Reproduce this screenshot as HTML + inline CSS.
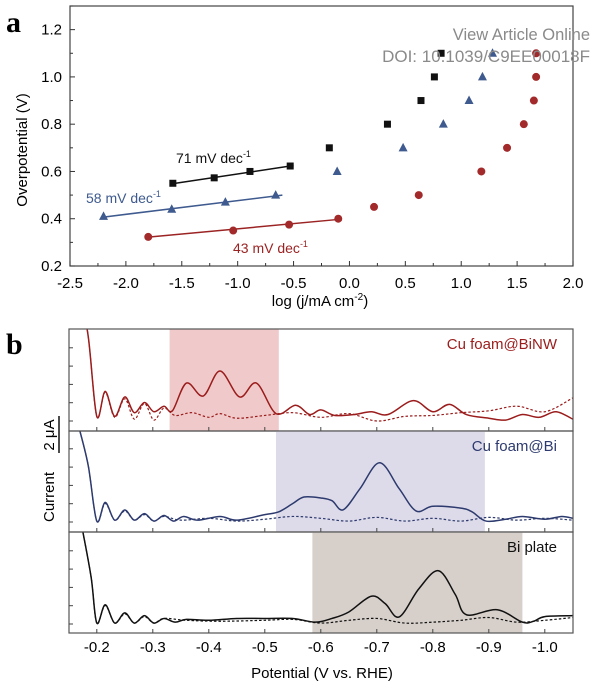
<!DOCTYPE html>
<html><head><meta charset="utf-8"><style>
body{margin:0;background:#fff;width:600px;height:684px;overflow:hidden}
svg{font-family:"Liberation Sans",sans-serif}
</style></head><body>
<svg id="fig" width="600" height="684" viewBox="0 0 600 684">
<text x="6" y="32" font-family="Liberation Serif,serif" font-weight="bold" font-size="30">a</text>
<text x="6" y="354" font-family="Liberation Serif,serif" font-weight="bold" font-size="30">b</text>
<g id="pa"></g>
<g id="pb"></g>
<text x="590" y="40" text-anchor="end" font-size="16.5" fill="#8a8a8a">View Article Online</text>
<text x="590" y="62" text-anchor="end" font-size="17" fill="#8a8a8a">DOI: 10.1039/C9EE00018F</text>
</svg>
<script>
// ---- Panel a data ----
const aXTicks=[-2.5,-2.0,-1.5,-1.0,-0.5,0.0,0.5,1.0,1.5,2.0];
const aYTicks=[0.2,0.4,0.6,0.8,1.0,1.2];
const blackX=[-1.58,-1.21,-0.89,-0.53,-0.18,0.34,0.64,0.76,0.82];
const blackY=[0.55,0.573,0.6,0.623,0.7,0.8,0.9,1.0,1.1];
const blueX=[-2.2,-1.59,-1.11,-0.66,-0.11,0.48,0.84,1.07,1.19,1.28];
const blueY=[0.41,0.44,0.47,0.5,0.6,0.7,0.8,0.9,1.0,1.1];
const redX=[-1.8,-1.04,-0.54,-0.1,0.22,0.62,1.18,1.41,1.56,1.65,1.67,1.67];
const redY=[0.323,0.35,0.375,0.4,0.45,0.5,0.6,0.7,0.8,0.9,1.0,1.1];
const blackFit=[[-1.6,0.547],[-0.5,0.625]];
const blueFit=[[-2.2,0.407],[-0.6,0.5]];
const redFit=[[-1.8,0.322],[-0.1,0.397]];

// ---- Panel b data (potential V, current uA above baseline) ----
const bXTicks=[-0.2,-0.3,-0.4,-0.5,-0.6,-0.7,-0.8,-0.9,-1.0];
const binwSolidX=[-0.17,-0.185,-0.2,-0.215,-0.232,-0.25,-0.267,-0.285,-0.302,-0.32,-0.335,-0.36,-0.39,-0.42,-0.455,-0.485,-0.52,-0.555,-0.58,-0.6,-0.625,-0.66,-0.69,-0.72,-0.765,-0.8,-0.83,-0.86,-0.9,-0.93,-0.96,-0.99,-1.02,-1.05];
const binwSolidY=[7,4.5,0.25,1.6,0.25,1.3,0.45,1.0,0.5,0.8,0.55,2.05,1.35,2.7,1.3,2.05,0.4,0.85,0.35,0.6,0.3,0.35,0.5,0.35,1.1,0.5,0.9,0.35,0.15,0.05,0.35,0.2,0.5,0.1];
const binwDashX=[-0.17,-0.185,-0.2,-0.215,-0.232,-0.25,-0.267,-0.285,-0.302,-0.32,-0.34,-0.37,-0.4,-0.42,-0.45,-0.5,-0.55,-0.6,-0.65,-0.7,-0.75,-0.8,-0.85,-0.9,-0.95,-1.0,-1.05];
const binwDashY=[7,4.5,0.25,1.55,0.2,1.2,0.1,0.95,0.05,0.7,0.3,0.45,0.2,0.4,0.15,0.3,0.45,0.2,0.4,0.0,0.25,0.3,0.45,0.55,0.8,0.5,1.25];
const biSolidX=[-0.17,-0.185,-0.2,-0.215,-0.232,-0.25,-0.267,-0.285,-0.302,-0.32,-0.337,-0.355,-0.38,-0.42,-0.45,-0.5,-0.525,-0.55,-0.57,-0.6,-0.62,-0.64,-0.67,-0.705,-0.74,-0.77,-0.8,-0.85,-0.87,-0.895,-0.93,-0.96,-1.0,-1.03,-1.05];
const biSolidY=[4.9,3.0,0.05,1.06,0.1,0.65,0.1,0.45,0.05,0.35,0.05,0.3,0.1,0.3,0.1,0.4,0.55,1.0,1.35,1.3,1.15,0.66,1.8,3.2,1.8,0.6,0.85,0.75,0.55,0.05,0.15,0.3,0.15,0.3,0.2];
const biDashX=[-0.17,-0.185,-0.2,-0.215,-0.232,-0.25,-0.267,-0.285,-0.302,-0.32,-0.35,-0.4,-0.45,-0.5,-0.55,-0.6,-0.65,-0.7,-0.75,-0.8,-0.85,-0.9,-0.95,-1.0,-1.05];
const biDashY=[4.9,3.0,0.05,1.0,0.1,0.6,0.1,0.4,0.05,0.3,0.1,0.2,0.05,0.15,0.3,0.2,0.05,0.25,0.05,0.2,0.05,0.25,0.1,0.2,0.1];
const plateSolidX=[-0.175,-0.19,-0.2,-0.215,-0.232,-0.25,-0.267,-0.285,-0.302,-0.32,-0.34,-0.36,-0.4,-0.45,-0.5,-0.55,-0.59,-0.62,-0.65,-0.69,-0.715,-0.74,-0.775,-0.81,-0.84,-0.86,-0.915,-0.96,-0.98,-1.0,-1.05];
const plateSolidY=[5.0,2.5,0.05,1.04,0.05,0.6,0.05,0.45,0.05,0.3,0.1,0.25,0.2,0.3,0.3,0.3,0.1,0.3,0.65,1.5,1.1,0.38,1.9,2.88,1.6,0.5,0.77,0.1,0.15,0.4,0.45];
const plateDashX=[-0.175,-0.19,-0.2,-0.215,-0.232,-0.25,-0.267,-0.285,-0.302,-0.32,-0.36,-0.42,-0.5,-0.55,-0.6,-0.65,-0.7,-0.75,-0.8,-0.85,-0.9,-0.95,-1.0,-1.05];
const plateDashY=[5.0,2.5,0.05,1.0,0.05,0.55,0.05,0.4,0.05,0.3,0.2,0.15,0.2,0.25,0.05,0.2,0.3,0.05,0.1,0.2,0.35,0.1,0.2,0.35];
const regionBinw=[-0.33,-0.525];
const regionBi=[-0.52,-0.893];
const regionPlate=[-0.585,-0.96];

const NS="http://www.w3.org/2000/svg";
function mk(parent,tag,attrs){const e=document.createElementNS(NS,tag);for(const k in attrs)e.setAttribute(k,attrs[k]);parent.appendChild(e);return e;}
const pa=document.getElementById('pa'),pb=document.getElementById('pb');

// Panel a axes
const aL=70,aR=573,aT=6,aB=266;
const ax=v=>aL+(v+2.5)/4.5*(aR-aL);
const ay=v=>aB-(v-0.2)/1.1*(aB-aT);
let r=mk(pa,'rect',{x:aL,y:aT,width:aR-aL,height:aB-aT,fill:'none',stroke:'#444','stroke-width':1.2});


aXTicks.forEach(v=>{
 mk(pa,'line',{x1:ax(v),x2:ax(v),y1:aB,y2:aB-5,stroke:'#333'});
 const t=mk(pa,'text',{x:ax(v),y:aB+22,'text-anchor':'middle','font-size':15});t.textContent=v.toFixed(1);
 
 
});
for(let v=-2.25;v<2;v+=0.5)mk(pa,'line',{x1:ax(v),x2:ax(v),y1:aB,y2:aB-3,stroke:'#333'});
aYTicks.forEach(v=>{
 mk(pa,'line',{x1:aL,x2:aL+5,y1:ay(v),y2:ay(v),stroke:'#333'});
 const t=mk(pa,'text',{x:aL-8,y:ay(v)+5,'text-anchor':'end','font-size':15});t.textContent=v.toFixed(1);
 
 
});
for(let v=0.3;v<1.3;v+=0.2)mk(pa,'line',{x1:aL,x2:aL+3,y1:ay(v),y2:ay(v),stroke:'#333'});
let t=mk(pa,'text',{x:0,y:0,transform:'translate(27,150) rotate(-90)','text-anchor':'middle','font-size':15});t.textContent='Overpotential (V)';


t=mk(pa,'text',{x:320,y:306,'text-anchor':'middle','font-size':15});t.innerHTML='log (j/mA cm<tspan dy="-6" font-size="10">-2</tspan><tspan dy="6">)</tspan>';


[[blackFit,'#111'],[blueFit,'#3e5a8e'],[redFit,'#9b2323']].forEach(([f,c])=>{
 const l=mk(pa,'line',{x1:ax(f[0][0]),y1:ay(f[0][1]),x2:ax(f[1][0]),y2:ay(f[1][1]),stroke:c,'stroke-width':1.5});
 
 
});
blackX.forEach((x,i)=>{const e=mk(pa,'rect',{x:ax(x)-3.5,y:ay(blackY[i])-3.5,width:7,height:7,fill:'#111'});
 
 });
blueX.forEach((x,i)=>{const cx=ax(x),cy=ay(blueY[i]);const e=mk(pa,'polygon',{points:`${cx},${cy-5} ${cx-4.5},${cy+3.5} ${cx+4.5},${cy+3.5}`,fill:'#3e5a8e'});
 
 });
redX.forEach((x,i)=>{const e=mk(pa,'circle',{cx:ax(x),cy:ay(redY[i]),r:4,fill:'#a32a2a'});
 
 });
[[176,163,'#111','71 mV dec','black-slope-label'],[86,203,'#3e5a8e','58 mV dec','blue-slope-label'],[233,253,'#9b2323','43 mV dec','red-slope-label']].forEach(([x,y,c,s,n])=>{
 const e=mk(pa,'text',{x:x,y:y,'font-size':14,fill:c});e.innerHTML=s+'<tspan dy="-6" font-size="9">-1</tspan>';
 
 
});

// Panel b
const bL=69,bR=573;
const bx=v=>96.8+(-0.2-v)/0.1*56.0;
const S=18.5;
const panels=[
 {top:329,bot:431,base:421,reg:regionBinw,fill:'#f0caca',col:'#9b1c1c',sx:binwSolidX,sy:binwSolidY,dx:binwDashX,dy:binwDashY,label:'Cu foam@BiNW',name:'binw'},
 {top:431,bot:532,base:522,reg:regionBi,fill:'#dddbea',col:'#2d3a6e',sx:biSolidX,sy:biSolidY,dx:biDashX,dy:biDashY,label:'Cu foam@Bi',name:'bi'},
 {top:532,bot:633,base:624,reg:regionPlate,fill:'#d6cfca',col:'#111',sx:plateSolidX,sy:plateSolidY,dx:plateDashX,dy:plateDashY,label:'Bi plate',name:'plate'}];
const TEN=6;
function path(xs,ys,base){
 const p=xs.map((x,i)=>[bx(x),base-ys[i]*S]);
 let d=`M${p[0][0]},${p[0][1]}`;
 for(let i=0;i<p.length-1;i++){const p0=p[i-1]||p[i],p1=p[i],p2=p[i+1],p3=p[i+2]||p2;
  d+=` C${p1[0]+(p2[0]-p0[0])/TEN},${p1[1]+(p2[1]-p0[1])/TEN} ${p2[0]-(p3[0]-p1[0])/TEN},${p2[1]-(p3[1]-p1[1])/TEN} ${p2[0]},${p2[1]}`;}
 return d;}
panels.forEach(P=>{
 const cid='c'+P.name;const cp=mk(pb,'clipPath',{id:cid});mk(cp,'rect',{x:bL,y:P.top,width:bR-bL,height:P.bot-P.top});
 let e=mk(pb,'rect',{x:bx(P.reg[0]),y:P.top,width:bx(P.reg[1])-bx(P.reg[0]),height:P.bot-P.top,fill:P.fill});
 
 
 e=mk(pb,'path',{d:path(P.dx,P.dy,P.base),fill:'none',stroke:P.col,'stroke-width':1.2,'stroke-dasharray':'2.5,2','clip-path':`url(#${cid})`});
 
 
 e=mk(pb,'path',{d:path(P.sx,P.sy,P.base),fill:'none',stroke:P.col,'stroke-width':1.5,'clip-path':`url(#${cid})`});
 
 
 e=mk(pb,'rect',{x:bL,y:P.top,width:bR-bL,height:P.bot-P.top,fill:'none',stroke:'#555','stroke-width':1.2});
 
 
 for(let k=0;k<5;k++){const y=P.base-k*18.3;if(y>P.top+3)mk(pb,'line',{x1:bL,x2:bL+4,y1:y,y2:y,stroke:'#444'});}
 bXTicks.forEach(v=>mk(pb,'line',{x1:bx(v),x2:bx(v),y1:P.bot,y2:P.bot-4,stroke:'#444'}));
 e=mk(pb,'text',{x:557,y:P.top+20,'text-anchor':'end','font-size':15,fill:P.col});e.textContent=P.label;
 
 
});
bXTicks.forEach(v=>{const e=mk(pb,'text',{x:bx(v),y:652,'text-anchor':'middle','font-size':15});e.textContent=v.toFixed(1);
 
 });
t=mk(pb,'text',{x:322,y:678,'text-anchor':'middle','font-size':15});t.textContent='Potential (V vs. RHE)';


t=mk(pb,'text',{x:0,y:0,transform:'translate(54,497) rotate(-90)','text-anchor':'middle','font-size':15});t.textContent='Current';


t=mk(pb,'text',{x:0,y:0,transform:'translate(54,435) rotate(-90)','text-anchor':'middle','font-size':15});t.textContent='2 μA';


t=mk(pb,'line',{x1:59,x2:59,y1:416,y2:453,stroke:'#111','stroke-width':1.5});


</script>
</body></html>
